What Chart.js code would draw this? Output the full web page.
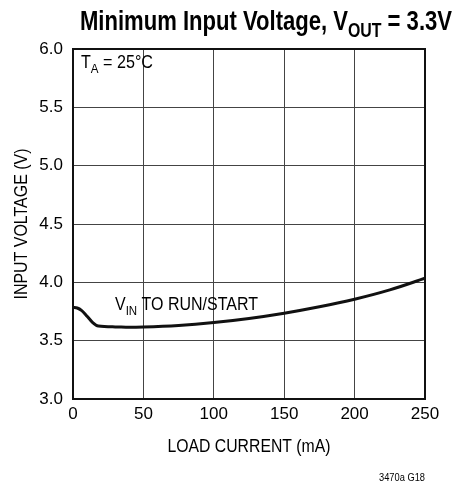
<!DOCTYPE html>
<html>
<head>
<meta charset="utf-8">
<script src="https://cdn.jsdelivr.net/npm/chart.js@4.4.0/dist/chart.umd.min.js"></script>
<style>
  html, body { margin: 0; padding: 0; background: #fff; }
  #wrap { width: 456px; height: 486px; position: relative; }
</style>
</head>
<body>
<div id="wrap"><canvas id="chart"></canvas></div>
<script>
// load current (mA) vs minimum input voltage (V)
const loadCurrent = [0, 3, 6, 10, 14, 18, 30, 40, 50, 75, 100, 125, 150, 175, 200, 225, 250];
const inputVoltage = [3.785, 3.78, 3.76, 3.71, 3.655, 3.625, 3.618, 3.615, 3.617, 3.63, 3.655, 3.69, 3.735, 3.79, 3.855, 3.935, 4.035];
const xTicks = [0, 50, 100, 150, 200, 250];
const yTicks = [3.0, 3.5, 4.0, 4.5, 5.0, 5.5, 6.0];

const FONT = "'Liberation Sans', Arial, sans-serif";

// texte avec indice, compressé horizontalement à la largeur voulue
function drawFit(ctx, parts, x, y, size, bold, width, align) {
    const fontOf = p => (bold ? 'bold ' : '') + (p.sub ? size * 0.72 : size) + 'px ' + FONT;
    const w = parts.reduce((s, p) => { ctx.font = fontOf(p); return s + ctx.measureText(p.t).width; }, 0);
    const sx = width / w;
    ctx.save();
    let x0 = x;
    if (align === 'center') x0 = x - width / 2;
    if (align === 'right') x0 = x - width;
    ctx.translate(x0, y);
    ctx.scale(sx, 1);
    ctx.textAlign = 'left';
    let cx = 0;
    parts.forEach(p => {
        ctx.font = fontOf(p);
        ctx.fillText(p.t, cx, p.sub ? size * 0.25 : 0);
        cx += ctx.measureText(p.t).width;
    });
    ctx.restore();
}

const labelsPlugin = {
    id: 'labels',
    afterDraw(chart) {
        const ctx = chart.ctx;
        const a = chart.chartArea;
        ctx.save();
        ctx.fillStyle = '#000';
        ctx.textBaseline = 'alphabetic';

        // titre
        drawFit(ctx, [{ t: 'Minimum Input Voltage, V' }, { t: 'OUT', sub: true }, { t: ' = 3.3V' }],
            266, 30, 27, true, 372, 'center');

        // annotations
        drawFit(ctx, [{ t: 'T' }, { t: 'A', sub: true }, { t: ' = 25°C' }], 81, 68, 18, false, 72, 'left');
        drawFit(ctx, [{ t: 'V' }, { t: 'IN', sub: true }, { t: ' TO RUN/START' }], 115, 310, 18, false, 143, 'left');

        // titres des axes
        drawFit(ctx, [{ t: 'LOAD CURRENT (mA)' }], (a.left + a.right) / 2, 452, 18, false, 163, 'center');
        ctx.save();
        ctx.translate(27, (a.top + a.bottom) / 2);
        ctx.rotate(-Math.PI / 2);
        drawFit(ctx, [{ t: 'INPUT VOLTAGE (V)' }], 0, 0, 18, false, 151, 'center');
        ctx.restore();

        drawFit(ctx, [{ t: '3470a G18' }], a.right, 481, 11, false, 46, 'right');

        // cadre
        ctx.strokeStyle = '#111';
        ctx.lineWidth = 2;
        ctx.strokeRect(a.left, a.top, a.right - a.left, a.bottom - a.top);
        ctx.restore();
    }
};

new Chart(document.getElementById('chart'), {
    type: 'line',
    data: {
        datasets: [{
            data: loadCurrent.map((x, i) => ({ x: x, y: inputVoltage[i] })),
            borderColor: '#111',
            borderWidth: 3,
            pointRadius: 0,
            cubicInterpolationMode: 'monotone',
            fill: false
        }]
    },
    options: {
        responsive: true,
        maintainAspectRatio: false,
        animation: false,
        layout: { padding: { top: 49, right: 31, left: 0, bottom: 0 } },
        plugins: { legend: { display: false }, tooltip: { enabled: false } },
        scales: {
            x: {
                type: 'linear',
                min: 0,
                max: 250,
                afterBuildTicks: s => { s.ticks = xTicks.map(v => ({ value: v })); },
                afterFit: s => { s.height = 87; },
                grid: { color: '#444', lineWidth: 1, drawTicks: false },
                border: { display: false },
                ticks: { color: '#000', padding: 5, maxRotation: 0, font: { family: FONT, size: 17 } }
            },
            y: {
                type: 'linear',
                min: 3,
                max: 6,
                afterBuildTicks: s => { s.ticks = yTicks.map(v => ({ value: v })); },
                afterFit: s => { s.width = 73; },
                grid: { color: '#444', lineWidth: 1, drawTicks: false },
                border: { display: false },
                ticks: { color: '#000', padding: 10, font: { family: FONT, size: 17 },
                    callback: v => v.toFixed(1) }
            }
        }
    },
    plugins: [labelsPlugin]
});
</script>
</body>
</html>
